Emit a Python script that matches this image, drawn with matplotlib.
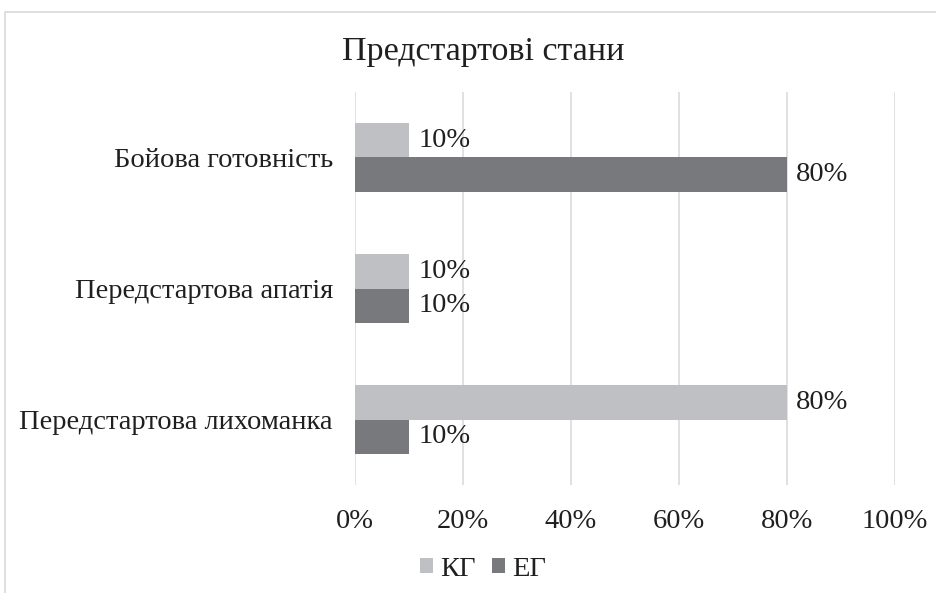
import matplotlib.pyplot as plt
import numpy as np
from matplotlib.patches import Rectangle

plt.rcParams['font.family'] = ['Liberation Serif', 'DejaVu Serif']

categories = ['Передстартова лихоманка', 'Передстартова апатія', 'Бойова готовність']
kg = [80, 10, 10]
eg = [10, 10, 80]
series_names = ['КГ', 'ЕГ']
xticks = [0, 20, 40, 60, 80, 100]

c_kg = '#bfc0c3'
c_eg = '#78797c'
txt = '#1f1f1f'

fig = plt.figure(figsize=(9.36, 5.93), dpi=100)
fig.patches.append(Rectangle((5 / 936, -0.1), 1.2, 1 - 12 / 593 + 0.1,
                             transform=fig.transFigure, fill=False,
                             edgecolor='#d9d9d9', linewidth=1.2))
ax = fig.add_axes([355 / 936, 1 - 485 / 593, 540 / 936, 393 / 593])

y = np.arange(len(categories))
h = 0.26
b1 = ax.barh(y + h / 2, kg, height=h, color=c_kg, label=series_names[0], zorder=3)
b2 = ax.barh(y - h / 2, eg, height=h, color=c_eg, label=series_names[1], zorder=3)

for bars, vals in [(b1, kg), (b2, eg)]:
    for bar, v in zip(bars, vals):
        ax.text(v + 1.7, bar.get_y() + bar.get_height() / 2, f'{v}%',
                va='center', ha='left', fontsize=20.5, color=txt)

ax.set_xlim(0, 100)
ax.set_ylim(-0.5, 2.5)
ax.set_xticks(xticks)
ax.set_xticklabels([f'{t}%' for t in xticks])
ax.set_yticks(y)
ax.set_yticklabels(categories)
ax.tick_params(axis='both', length=0, labelsize=20.5, labelcolor=txt)
ax.tick_params(axis='x', pad=17)
ax.tick_params(axis='y', pad=16)
ax.grid(axis='x', color='#dcdcdc', linewidth=1.2, zorder=0)
for s in ax.spines.values():
    s.set_visible(False)

fig.text(483 / 936, 1 - 52 / 593, 'Предстартові стани', ha='center', va='center',
         fontsize=24.5, color=txt)

fig.legend(loc='center', bbox_to_anchor=(483 / 936, 1 - 569 / 593), ncol=2,
           frameon=False, fontsize=20.5, handlelength=0.45, handleheight=0.45,
           handletextpad=0.25, columnspacing=0.6, labelcolor=txt)

fig.savefig('out.png', dpi=100)
